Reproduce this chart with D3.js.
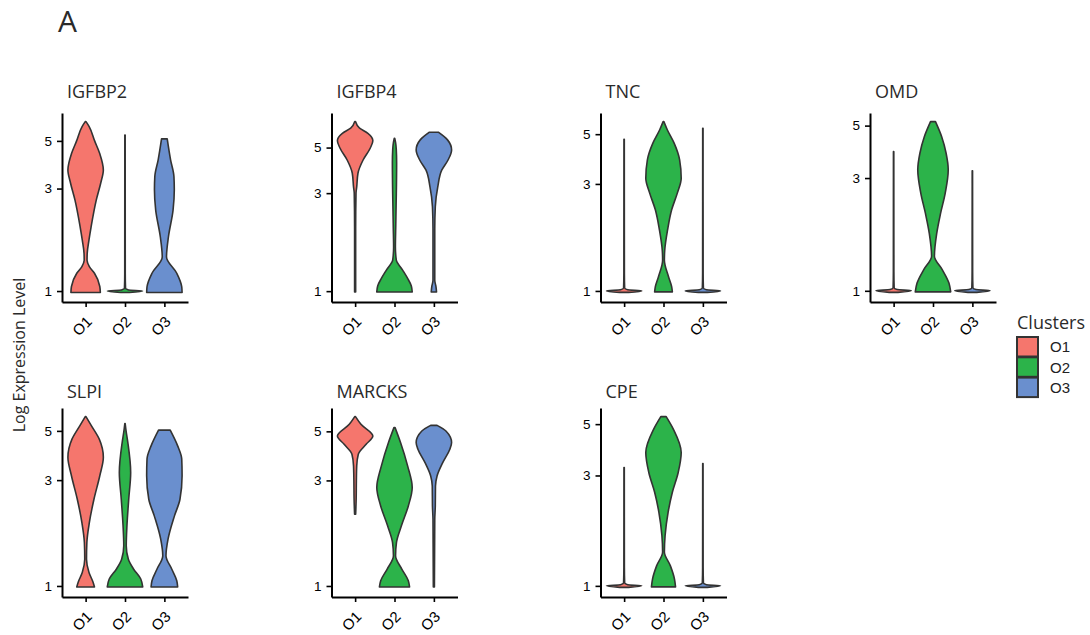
<!DOCTYPE html>
<html>
<head>
<meta charset="utf-8">
<script src="https://cdn.jsdelivr.net/npm/d3@7"></script>
<style>
  body { margin: 0; background: #fff; }
  .title { font-family: "Open Sans", sans-serif; fill: #2a2a2a; }
  .tick text { font-family: "Liberation Sans", Arial, sans-serif; fill: #000; }
</style>
</head>
<body>
<div id="vis"></div>
<script>
const FRAME_WIDTH = 1090;
const FRAME_HEIGHT = 635;
const PANEL_W = 126;
const PANEL_H = 189;
const COL_X = [62, 331.5, 600.5, 870];
const ROW_Y = [113, 408];
const TITLE_BASE = [98, 398];

// data
const genes = ["IGFBP2", "IGFBP4", "TNC", "OMD", "SLPI", "MARCKS", "CPE"];
const clusters = ["O1", "O2", "O3"];
const clusterColors = ["#F5766D", "#2CB34A", "#6A8FCE"];
const yTicks = [1, 3, 5];
const DATA_MIN = 0.975; // lowest expression value in every gene

// violin outlines: [expression, relative width] from bottom to top,
// one list per cluster (O1, O2, O3)
const IGFBP2 = [
  [[0.985, 0.83], [1.05, 0.8], [1.21, 0.5], [1.3, 0.21], [1.39, 0.08], [1.5, 0.09], [1.73, 0.19], [1.99, 0.31],
   [2.65, 0.6], [3.2, 0.86], [3.66, 1.0], [4.38, 0.79], [5.0, 0.51], [5.83, 0.2], [6.15, 0.02]],
  [[0.985, 0.25], [1.0, 1.0], [1.012, 0.2], [1.03, 0.03], [1.2, 0.015], [5.33, 0.01]],
  [[0.985, 1.0], [1.047, 0.98], [1.21, 0.7], [1.44, 0.12], [1.79, 0.23], [2.38, 0.49], [2.96, 0.56],
   [3.41, 0.54], [4.08, 0.35], [5.11, 0.16]]
];
const IGFBP4 = [
  [[0.99, 0.03], [2.0, 0.03], [3.0, 0.05], [3.22, 0.09], [3.75, 0.16], [4.35, 0.45], [4.96, 0.85], [5.4, 1.0],
   [5.87, 0.72], [6.21, 0.25], [6.69, 0.02]],
  [[0.99, 1.0], [1.06, 0.95], [1.15, 0.75], [1.27, 0.45], [1.42, 0.1], [1.64, 0.05], [2.06, 0.07], [2.6, 0.09],
   [3.3, 0.11], [4.2, 0.12], [4.9, 0.1], [5.3, 0.06], [5.55, 0.01]],
  [[0.99, 0.15], [1.05, 0.12], [1.13, 0.05], [2.0, 0.05], [2.58, 0.08], [3.22, 0.22], [3.89, 0.45], [4.35, 0.8],
   [4.87, 1.0], [5.45, 0.77], [5.94, 0.25]]
];
const TNC = [
  [[0.985, 0.25], [1.0, 1.0], [1.012, 0.2], [1.03, 0.03], [1.2, 0.015], [4.75, 0.01]],
  [[0.99, 0.5], [1.045, 0.46], [1.16, 0.28], [1.37, 0.05], [1.52, 0.07], [1.87, 0.23], [2.3, 0.46], [2.73, 0.78],
   [3.18, 1.0], [3.84, 0.91], [4.56, 0.6], [5.22, 0.22], [5.69, 0.02]],
  [[0.985, 0.25], [1.0, 1.0], [1.012, 0.2], [1.03, 0.03], [1.2, 0.015], [5.31, 0.01]]
];
const OMD = [
  [[0.985, 0.25], [1.0, 1.0], [1.012, 0.2], [1.03, 0.03], [1.2, 0.015], [3.88, 0.01]],
  [[0.99, 1.0], [1.078, 0.9], [1.23, 0.52], [1.4, 0.08], [1.75, 0.21], [2.13, 0.43], [2.59, 0.69], [3.25, 0.86],
   [3.82, 0.74], [4.49, 0.49], [5.2, 0.14]],
  [[0.985, 0.25], [1.0, 1.0], [1.012, 0.2], [1.03, 0.03], [1.2, 0.015], [3.22, 0.01]]
];
const SLPI = [
  [[0.99, 0.5], [1.04, 0.42], [1.15, 0.19], [1.32, 0.05], [1.57, 0.07], [1.93, 0.21], [2.46, 0.47], [3.14, 0.8],
   [3.8, 1.0], [4.59, 0.77], [5.27, 0.33], [5.8, 0.02]],
  [[0.99, 1.0], [1.075, 0.89], [1.19, 0.49], [1.32, 0.19], [1.52, 0.07], [1.87, 0.11], [2.46, 0.21], [3.25, 0.32],
   [4.43, 0.16], [5.0, 0.06], [5.4, 0.01]],
  [[0.99, 0.75], [1.056, 0.7], [1.19, 0.42], [1.37, 0.09], [1.63, 0.21], [2.07, 0.57], [2.46, 0.88], [3.14, 1.0],
   [3.73, 0.98], [4.28, 0.75], [5.04, 0.33]]
];
const MARCKS = [
  [[2.11, 0.03], [2.5, 0.06], [3.0, 0.07], [3.49, 0.09], [3.94, 0.18], [4.37, 0.62], [4.76, 1.0], [5.38, 0.33],
   [5.83, 0.02]],
  [[0.99, 0.85], [1.056, 0.78], [1.19, 0.42], [1.37, 0.06], [1.57, 0.11], [1.87, 0.39], [2.3, 0.78], [2.79, 1.0],
   [3.49, 0.74], [4.45, 0.34], [5.2, 0.03]],
  [[0.99, 0.03], [2.0, 0.05], [2.3, 0.08], [2.83, 0.09], [3.14, 0.18], [3.61, 0.5], [4.15, 0.9], [4.45, 1.0],
   [5.02, 0.68], [5.32, 0.18]]
];
const CPE = [
  [[0.985, 0.25], [1.0, 1.0], [1.012, 0.2], [1.03, 0.03], [1.2, 0.015], [3.25, 0.01]],
  [[0.99, 0.68], [1.07, 0.62], [1.22, 0.39], [1.4, 0.05], [1.65, 0.09], [2.08, 0.26], [2.54, 0.5], [3.09, 0.83],
   [3.77, 1.0], [4.75, 0.56], [5.39, 0.15]],
  [[0.985, 0.25], [1.0, 1.0], [1.012, 0.2], [1.03, 0.03], [1.2, 0.015], [3.38, 0.01]]
];
const profiles = [IGFBP2, IGFBP4, TNC, OMD, SLPI, MARCKS, CPE];

const FRAME = d3.select("#vis")
  .append("svg")
    .attr("width", FRAME_WIDTH)
    .attr("height", FRAME_HEIGHT);

// panel letter
FRAME.append("text")
  .attr("class", "title")
  .attr("x", 58)
  .attr("y", 31.5)
  .attr("font-size", "30px")
  .text("A");

// shared y label
FRAME.append("text")
  .attr("class", "title")
  .attr("transform", "translate(25,355) rotate(-90)")
  .attr("text-anchor", "middle")
  .attr("font-size", "16px")
  .text("Log Expression Level");

genes.forEach((gene, i) => {
  const col = i % 4;
  const row = Math.floor(i / 4);
  const g = FRAME.append("g")
    .attr("transform", "translate(" + COL_X[col] + "," + ROW_Y[row] + ")");

  // log scale over data range with 5% padding, like ggplot
  const maxV = d3.max(profiles[i], (p) => d3.max(p, (d) => d[0]));
  const lo = Math.log(DATA_MIN);
  const hi = Math.log(maxV);
  const pad = 0.05 * (hi - lo);
  const Y_SCALE = d3.scaleLog()
    .domain([Math.exp(lo - pad), Math.exp(hi + pad)])
    .range([PANEL_H, 0]);

  const X_SCALE = d3.scalePoint()
    .domain(clusters)
    .range([0, PANEL_W])
    .padding(0.6);
  const halfW = 0.45 * X_SCALE.step();

  // violins
  profiles[i].forEach((prof, j) => {
    const cx = X_SCALE(clusters[j]);
    const area = d3.area()
      .curve(d3.curveMonotoneY)
      .y((d) => Y_SCALE(d[0]))
      .x0((d) => cx - d[1] * halfW)
      .x1((d) => cx + d[1] * halfW);
    g.append("path")
      .datum(prof)
      .attr("d", area)
      .attr("fill", clusterColors[j])
      .attr("stroke", "#333")
      .attr("stroke-width", 1.6)
      .attr("stroke-linejoin", "round");
  });

  // axes
  const yAxis = g.append("g")
    .call(d3.axisLeft(Y_SCALE)
      .tickValues(yTicks)
      .tickFormat(d3.format("d"))
      .tickSize(5)
      .tickSizeOuter(0)
      .tickPadding(5));
  yAxis.selectAll("text").attr("font-size", "13.5px");

  const xAxis = g.append("g")
    .attr("transform", "translate(0," + PANEL_H + ")")
    .call(d3.axisBottom(X_SCALE).tickSize(5).tickSizeOuter(0));
  xAxis.selectAll("text")
    .attr("font-size", "15px")
    .attr("y", 0)
    .attr("dy", "0.35em")
    .attr("transform", "translate(3,17) rotate(-45)")
    .style("text-anchor", "end");

  [yAxis, xAxis].forEach((ax) => {
    ax.select(".domain").attr("stroke", "#000").attr("stroke-width", 2);
    ax.selectAll(".tick line").attr("stroke", "#000").attr("stroke-width", 1.6);
  });

  // gene title
  FRAME.append("text")
    .attr("class", "title")
    .attr("x", COL_X[col] + 5)
    .attr("y", TITLE_BASE[row])
    .attr("font-size", "18px")
    .text(gene);
});

// legend
const LEGEND = FRAME.append("g").attr("transform", "translate(1017,329)");
LEGEND.append("text")
  .attr("class", "title")
  .attr("font-size", "18px")
  .text("Clusters");
const keys = LEGEND.selectAll(".key")
  .data(clusters)
  .enter()
  .append("g")
    .attr("transform", (d, k) => "translate(0," + (8 + k * 20.3) + ")");
keys.append("rect")
  .attr("width", 21)
  .attr("height", 19.5)
  .attr("fill", (d, k) => clusterColors[k])
  .attr("stroke", "#333")
  .attr("stroke-width", 2);
keys.append("text")
  .attr("x", 33)
  .attr("y", 10)
  .attr("dy", "0.35em")
  .attr("font-family", "Liberation Sans, Arial, sans-serif")
  .attr("font-size", "15px")
  .attr("fill", "#222")
  .text((d) => d);
</script>
</body>
</html>
